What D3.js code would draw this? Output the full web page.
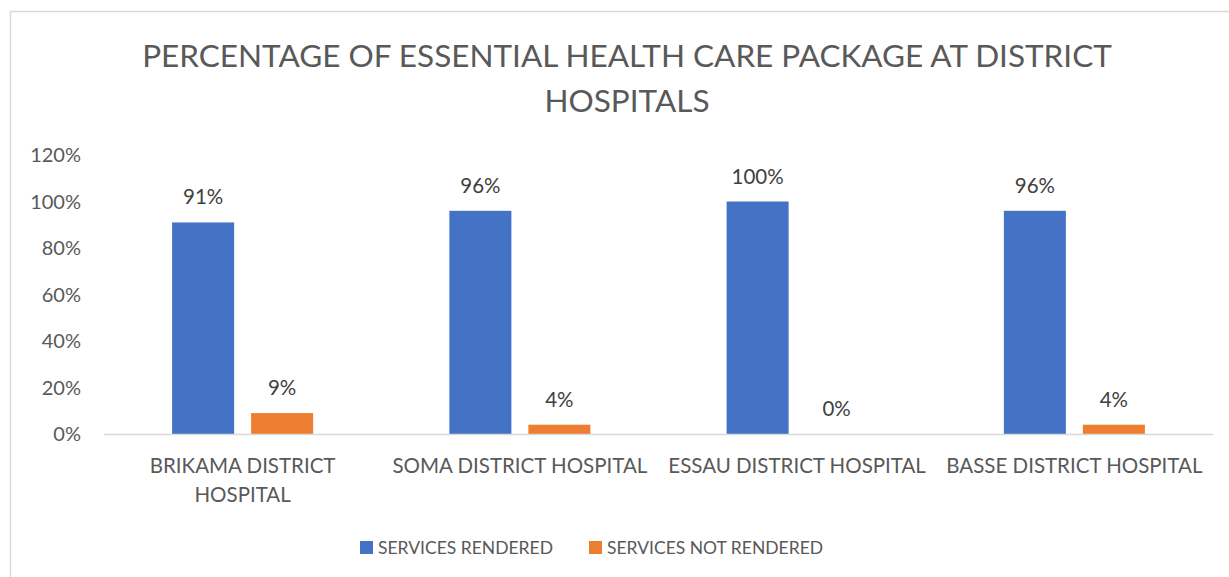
<!DOCTYPE html>
<html>
<head>
<meta charset="utf-8">
<script src="https://cdn.jsdelivr.net/npm/d3@7"></script>
<style>
  html, body { margin: 0; padding: 0; background: #fff; }
  svg { display: block; font-family: Lato, "Open Sans", sans-serif; }
</style>
</head>
<body>
<svg id="chart" width="1229" height="577"></svg>
<script>
// Hospitals and share of the essential health care package
const categories = [
  ["BRIKAMA DISTRICT", "HOSPITAL"],
  ["SOMA DISTRICT HOSPITAL"],
  ["ESSAU DISTRICT HOSPITAL"],
  ["BASSE DISTRICT HOSPITAL"]
];
const seriesNames = ["SERVICES RENDERED", "SERVICES NOT RENDERED"];
const servicesRendered = [0.91, 0.96, 1.00, 0.96];
const servicesNotRendered = [0.09, 0.04, 0.00, 0.04];
const yTicks = [0, 0.2, 0.4, 0.6, 0.8, 1.0, 1.2];
const titleLines = ["PERCENTAGE OF ESSENTIAL HEALTH CARE PACKAGE AT DISTRICT", "HOSPITALS"];
const colors = ["#4472C4", "#ED7D31"];

const svg = d3.select("#chart");
const W = 1229, H = 577;

// chart area frame (top and left edges visible)
svg.append("path")
  .attr("d", `M10.5,${H} V11.5 H${W}`)
  .attr("fill", "none").attr("stroke", "#d9d9d9").attr("stroke-width", 1.5);

// title
svg.append("g").selectAll("text").data(titleLines).join("text")
  .attr("x", 627).attr("y", (d, i) => 67 + i * 45)
  .attr("text-anchor", "middle")
  .attr("font-size", 31.5).attr("fill", "#595959")
  .text(d => d);

const plot = { left: 104, right: 1213, top: 155, bottom: 434 };
const keys = categories.map(c => c.join(" "));

const x0 = d3.scaleBand().domain(keys).range([plot.left, plot.right]);
const x1 = d3.scaleBand().domain(seriesNames).range([0, x0.bandwidth()])
  .paddingInner(0.215).paddingOuter(0.862);
const y = d3.scaleLinear().domain([0, 1.2]).range([plot.bottom, plot.top]);

// y axis labels
svg.append("g").selectAll("text").data(yTicks).join("text")
  .attr("x", 81).attr("y", d => y(d) + 7)
  .attr("text-anchor", "end")
  .attr("font-size", 20).attr("fill", "#595959")
  .text(d => d3.format(".0%")(d));

// bars
const rows = keys.map((k, i) => ({ key: k, values: [servicesRendered[i], servicesNotRendered[i]] }));
const groups = svg.append("g").selectAll("g").data(rows).join("g")
  .attr("transform", d => `translate(${x0(d.key)},0)`);

groups.selectAll("rect").data(d => d.values.map((v, j) => ({ s: seriesNames[j], v, j })))
  .join("rect")
  .attr("x", d => x1(d.s)).attr("width", x1.bandwidth())
  .attr("y", d => y(d.v)).attr("height", d => plot.bottom - y(d.v))
  .attr("fill", d => colors[d.j]);

// value labels
groups.selectAll("text").data(d => d.values.map((v, j) => ({ s: seriesNames[j], v, j })))
  .join("text")
  .attr("x", d => x1(d.s) + x1.bandwidth() / 2)
  .attr("y", d => y(d.v) - 18)
  .attr("text-anchor", "middle")
  .attr("font-size", 20.5).attr("fill", "#404040")
  .text(d => d3.format(".0%")(d.v));

// category axis line
svg.append("line")
  .attr("x1", plot.left).attr("x2", plot.right)
  .attr("y1", plot.bottom + 0.5).attr("y2", plot.bottom + 0.5)
  .attr("stroke", "#d9d9d9").attr("stroke-width", 1.5);

// category labels
const catG = svg.append("g").selectAll("text").data(categories).join("text")
  .attr("text-anchor", "middle")
  .attr("font-size", 20.5).attr("fill", "#595959");
catG.selectAll("tspan").data((d, i) => d.map(line => ({ line, key: keys[i] })))
  .join("tspan")
  .attr("x", d => x0(d.key) + x0.bandwidth() / 2)
  .attr("y", (d, i) => 473 + i * 29)
  .text(d => d.line);

// legend
const legendX = [360, 589];
const legend = svg.append("g").selectAll("g").data(seriesNames).join("g")
  .attr("transform", (d, i) => `translate(${legendX[i]},541)`);
legend.append("rect").attr("width", 13).attr("height", 13)
  .attr("fill", (d, i) => colors[i]);
legend.append("text").attr("x", 18).attr("y", 13)
  .attr("font-size", 17.5).attr("fill", "#595959")
  .text(d => d);
</script>
</body>
</html>
